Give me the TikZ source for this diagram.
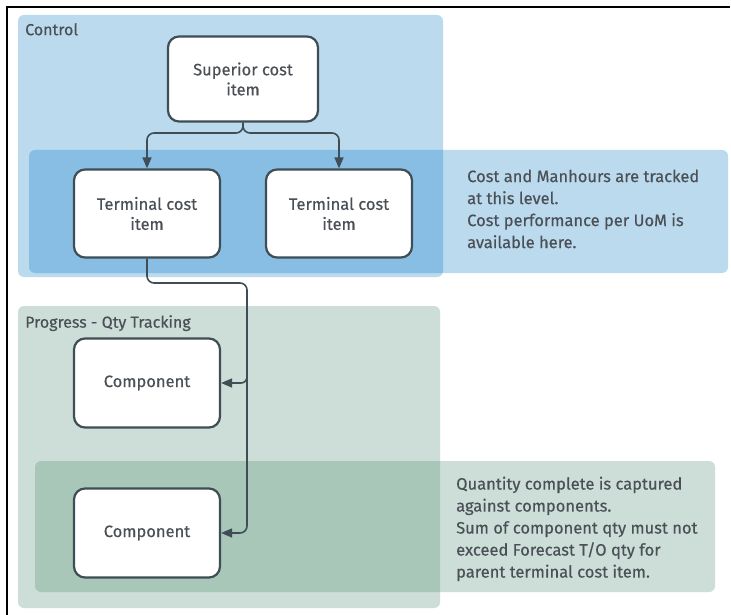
\documentclass[tikz,border=0pt]{standalone}
\usepackage{fontspec}
\setmainfont{Fira Sans}[FakeBold=0.4]
\usetikzlibrary{arrows.meta}
\definecolor{ctrlbg}{HTML}{BBDAEE}
\definecolor{ctrlband}{HTML}{89BEE4}
\definecolor{progbg}{HTML}{CCDED7}
\definecolor{progband}{HTML}{A8C7B9}
\definecolor{edge}{HTML}{3E4E54}
\definecolor{ink}{HTML}{4A5056}
\tikzset{
  x=1pt, y=-1pt,
  itembox/.style={draw=edge, line width=2.2pt, fill=white, rounded corners=11pt,
    minimum width=146pt, minimum height=88pt, align=center, text=ink,
    font=\fontsize{16.5}{20}\selectfont},
  note/.style={anchor=north west, align=left, text=ink, inner sep=0pt,
    font=\fontsize{16.5}{22}\selectfont},
  grouplabel/.style={anchor=north west, inner sep=0pt, text=ink,
    font=\fontsize{16}{18}\selectfont},
  link/.style={draw=edge, line width=1.6pt, rounded corners=7pt},
  tip/.style={-{Triangle[length=11pt,width=9pt]}}
}
\begin{document}
\begin{tikzpicture}
\useasboundingbox (0,0) rectangle (731,615);
\fill[white] (0,0) rectangle (731,615);
% frame lines
\draw[black, line width=1.3pt] (7,615) -- (7,7) -- (730,7);

% Control group
\fill[ctrlbg, rounded corners=6pt] (18,15) rectangle (443,277);
\fill[ctrlbg, rounded corners=6pt] (29,150) rectangle (728,273);
\begin{scope}
  \clip[rounded corners=6pt] (18,15) rectangle (443,277);
  \fill[ctrlband, rounded corners=6pt] (29,150) rectangle (728,273);
\end{scope}
\node[grouplabel] (ctrllbl) at (25,23) {Control};

% Progress group
\fill[progbg, rounded corners=6pt] (18,306) rectangle (440,608);
\fill[progbg, rounded corners=6pt] (35,461) rectangle (715,592);
\begin{scope}
  \clip[rounded corners=6pt] (18,306) rectangle (440,608);
  \fill[progband, rounded corners=6pt] (35,461) rectangle (715,592);
\end{scope}
\node[grouplabel] (proglbl) at (25,315) {Progress - Qty Tracking};

% cost items
\node[itembox, minimum width=150pt, minimum height=85pt] (sup) at (243,79) {Superior cost\\item};
\node[itembox] (t1) at (147,213.5) {Terminal cost\\item};
\node[itembox] (t2) at (339,213.5) {Terminal cost\\item};

% components
\node[itembox, minimum height=89pt] (c1) at (147,383) {Component};
\node[itembox, minimum height=89pt] (c2) at (147,533) {Component};

% notes
\node[note] (n1) at (467,169.5) {Cost and Manhours are tracked\\at this level.\\Cost performance per UoM is\\available here.};
\node[note] (n2) at (456,476.5) {Quantity complete is captured\\against components.\\Sum of component qty must not\\exceed Forecast T/O qty for\\parent terminal cost item.};

% connectors
\coordinate (split) at (243,133);
\coordinate (bend) at (247,283);
\draw[link, tip] (sup.south) -- (split) -| (t1.north);
\draw[link, tip] (sup.south) -- (split) -| (t2.north);
\draw[link, tip] (t1.south) |- (bend) |- (c2.east);
\draw[link, tip, rounded corners=6pt] (247,372) |- (c1.east);
\end{tikzpicture}
\end{document}
